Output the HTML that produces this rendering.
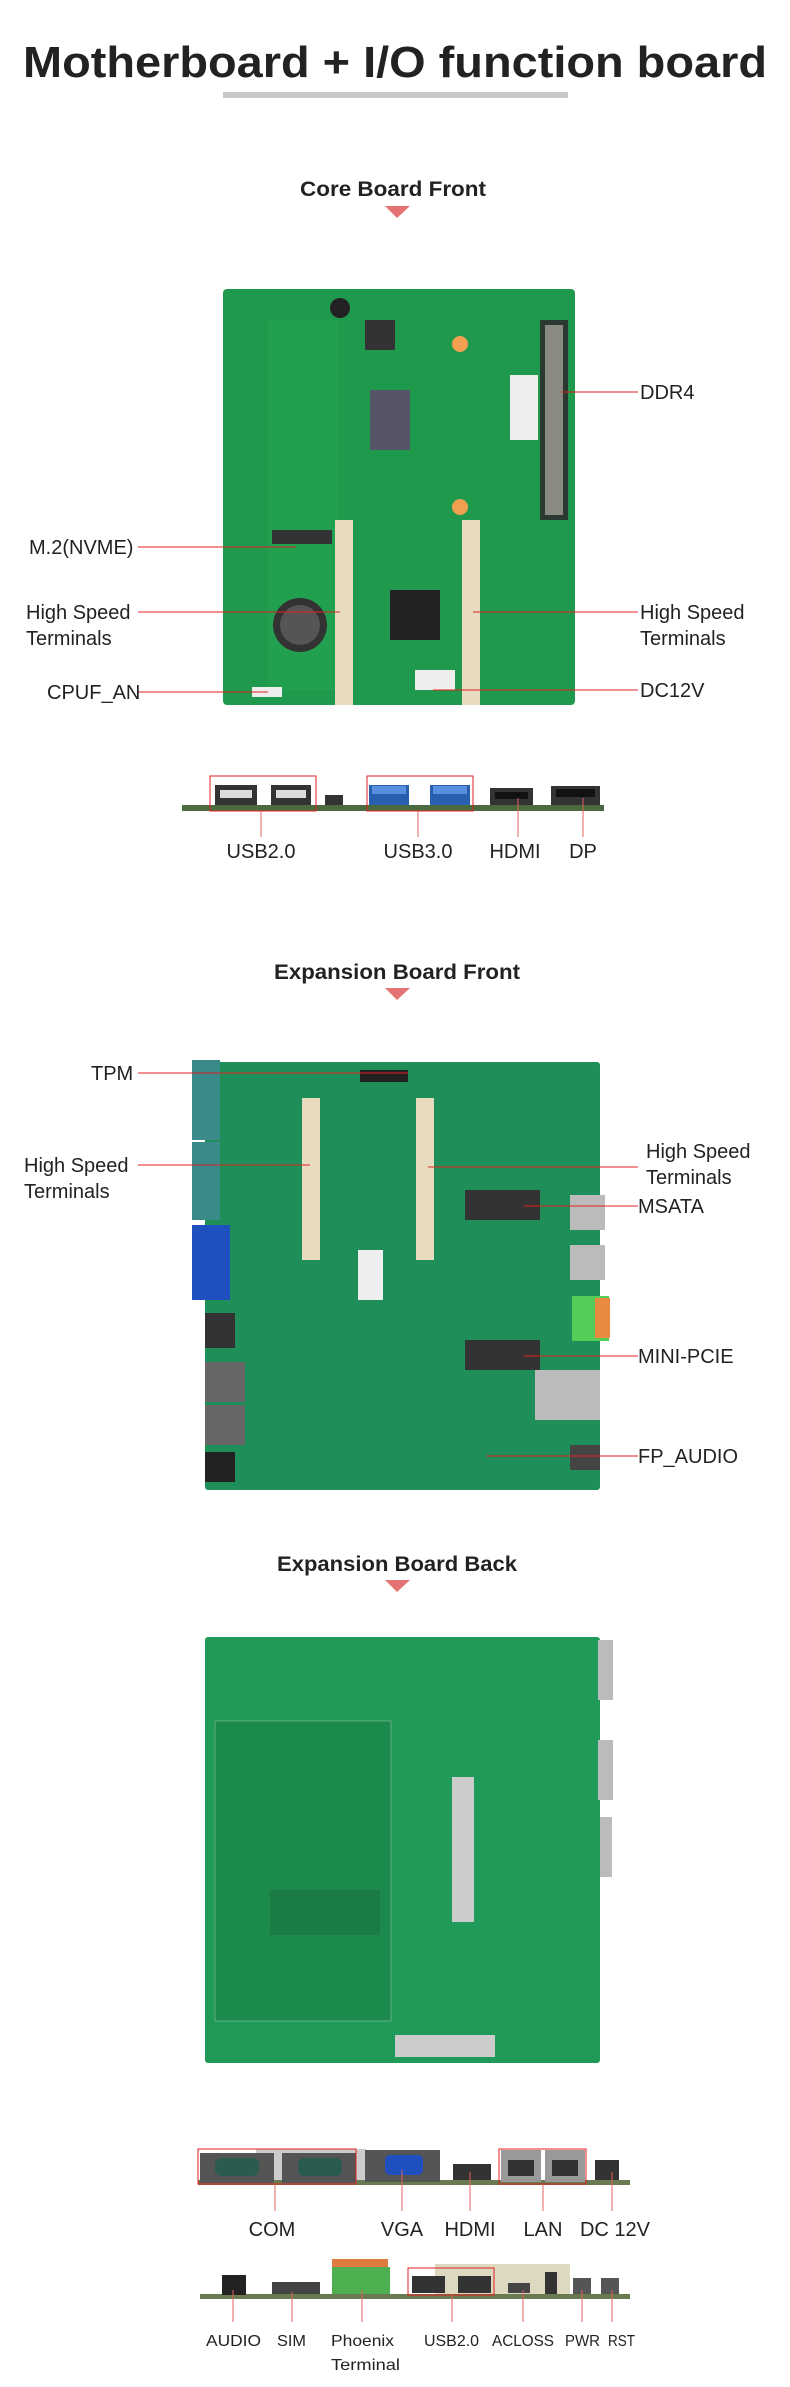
<!DOCTYPE html>
<html><head><meta charset="utf-8"><style>
html,body{margin:0;padding:0;background:#fff;}
svg{display:block;}
text{font-family:"Liberation Sans",sans-serif;fill:#222;}
</style></head><body>
<svg width="790" height="2387" viewBox="0 0 790 2387" xmlns="http://www.w3.org/2000/svg">
<!-- Title -->
<text x="395" y="77" font-size="44" font-weight="bold" text-anchor="middle" textLength="744" lengthAdjust="spacingAndGlyphs">Motherboard + I/O function board</text>
<rect x="223" y="92" width="345" height="6" fill="#c8c8c8"/>

<!-- Core Board Front -->
<text x="393" y="196" font-size="21" font-weight="bold" text-anchor="middle" textLength="186" lengthAdjust="spacingAndGlyphs">Core Board Front</text>
<polygon points="385,206 410,206 397,218" fill="#e57373"/>

<g>
<rect x="223" y="289" width="352" height="416" rx="4" fill="#1f9a4c"/>
<rect x="268" y="320" width="70" height="370" fill="#23a552" opacity="0.6"/>
<rect x="540" y="320" width="28" height="200" fill="#2a3a30"/>
<rect x="545" y="325" width="18" height="190" fill="#8a8a80"/>
<rect x="335" y="520" width="18" height="185" fill="#e8dcc0"/>
<rect x="462" y="520" width="18" height="185" fill="#e8dcc0"/>
<rect x="390" y="590" width="50" height="50" fill="#222"/>
<circle cx="300" cy="625" r="27" fill="#333"/>
<circle cx="300" cy="625" r="20" fill="#555"/>
<rect x="272" y="530" width="60" height="14" fill="#333"/>
<circle cx="460" cy="344" r="8" fill="#f0a050"/>
<circle cx="460" cy="507" r="8" fill="#f0a050"/>
<rect x="510" y="375" width="28" height="65" fill="#eee"/>
<rect x="415" y="670" width="40" height="20" fill="#eee"/>
<rect x="252" y="687" width="30" height="10" fill="#eee"/>
<rect x="330" y="298" width="20" height="20" rx="10" fill="#222"/>
<rect x="365" y="320" width="30" height="30" fill="#333"/>
<rect x="370" y="390" width="40" height="60" fill="#556"/>
</g>
<g stroke="#e02020" stroke-width="1">
<line x1="561" y1="392" x2="638" y2="392"/>
<line x1="138" y1="547" x2="296" y2="547"/>
<line x1="138" y1="612" x2="340" y2="612"/>
<line x1="473" y1="612" x2="638" y2="612"/>
<line x1="138" y1="692" x2="268" y2="692"/>
<line x1="433" y1="690" x2="638" y2="690"/>
</g>
<g font-size="20">
<text x="640" y="399">DDR4</text>
<text x="29" y="554">M.2(NVME)</text>
<text x="26" y="619">High Speed</text>
<text x="26" y="645">Terminals</text>
<text x="640" y="619">High Speed</text>
<text x="640" y="645">Terminals</text>
<text x="47" y="699">CPUF_AN</text>
<text x="640" y="697">DC12V</text>
</g>

<!-- Core IO strip -->
<rect x="182" y="805" width="422" height="6" fill="#4a6a40"/>
<rect x="215" y="785" width="42" height="20" fill="#333"/><rect x="220" y="790" width="32" height="8" fill="#ddd"/>
<rect x="271" y="785" width="40" height="20" fill="#333"/><rect x="276" y="790" width="30" height="8" fill="#ddd"/>
<rect x="325" y="795" width="18" height="10" fill="#333"/>
<rect x="369" y="785" width="40" height="20" fill="#2a5fb0"/><rect x="372" y="786" width="34" height="8" fill="#5a8fe0"/>
<rect x="430" y="785" width="40" height="20" fill="#2a5fb0"/><rect x="433" y="786" width="34" height="8" fill="#5a8fe0"/>
<rect x="490" y="788" width="43" height="17" fill="#333"/><rect x="495" y="792" width="33" height="7" fill="#111"/>
<rect x="551" y="786" width="49" height="19" fill="#333"/><rect x="556" y="789" width="39" height="8" fill="#111"/>
<rect x="210" y="776" width="106" height="35" fill="none" stroke="#e02020" stroke-width="1"/>
<rect x="367" y="776" width="106" height="35" fill="none" stroke="#e02020" stroke-width="1"/>
<g stroke="#e06060" stroke-width="1">
<line x1="261" y1="811" x2="261" y2="837"/>
<line x1="418" y1="811" x2="418" y2="837"/>
<line x1="518" y1="798" x2="518" y2="837"/>
<line x1="583" y1="798" x2="583" y2="837"/>
</g>
<g font-size="20" text-anchor="middle">
<text x="261" y="858">USB2.0</text>
<text x="418" y="858">USB3.0</text>
<text x="515" y="858">HDMI</text>
<text x="583" y="858">DP</text>
</g>

<!-- Expansion Board Front -->
<text x="397" y="979" font-size="21" font-weight="bold" text-anchor="middle" textLength="246" lengthAdjust="spacingAndGlyphs">Expansion Board Front</text>
<polygon points="385,988 410,988 397,1000" fill="#e57373"/>
<g>
<rect x="205" y="1062" width="395" height="428" rx="3" fill="#1f8f5a"/>
<rect x="192" y="1060" width="28" height="80" fill="#3a8a8a"/>
<rect x="192" y="1142" width="28" height="78" fill="#3a8a8a"/>
<rect x="192" y="1225" width="38" height="75" fill="#2050c0"/>
<rect x="205" y="1313" width="30" height="35" fill="#333"/>
<rect x="205" y="1362" width="40" height="40" fill="#666"/>
<rect x="205" y="1405" width="40" height="40" fill="#666"/>
<rect x="205" y="1452" width="30" height="30" fill="#222"/>
<rect x="302" y="1098" width="18" height="162" fill="#e8dcc0"/>
<rect x="416" y="1098" width="18" height="162" fill="#e8dcc0"/>
<rect x="360" y="1070" width="48" height="12" fill="#222"/>
<rect x="465" y="1190" width="75" height="30" fill="#333"/>
<rect x="465" y="1340" width="75" height="30" fill="#333"/>
<rect x="570" y="1195" width="35" height="35" fill="#bbb"/>
<rect x="570" y="1245" width="35" height="35" fill="#bbb"/>
<rect x="572" y="1296" width="37" height="45" fill="#5c5"/>
<rect x="595" y="1298" width="15" height="40" fill="#e88a40"/>
<rect x="535" y="1370" width="65" height="50" fill="#bbb"/>
<rect x="358" y="1250" width="25" height="50" fill="#eee"/>
<rect x="570" y="1445" width="30" height="25" fill="#444"/>
</g>
<g stroke="#e02020" stroke-width="1">
<line x1="138" y1="1073" x2="408" y2="1073"/>
<line x1="138" y1="1165" x2="310" y2="1165"/>
<line x1="428" y1="1167" x2="638" y2="1167"/>
<line x1="524" y1="1206" x2="638" y2="1206"/>
<line x1="524" y1="1356" x2="638" y2="1356"/>
<line x1="486" y1="1456" x2="638" y2="1456"/>
</g>
<g font-size="20">
<text x="91" y="1080">TPM</text>
<text x="24" y="1172">High Speed</text>
<text x="24" y="1198">Terminals</text>
<text x="646" y="1158">High Speed</text>
<text x="646" y="1184">Terminals</text>
<text x="638" y="1213">MSATA</text>
<text x="638" y="1363">MINI-PCIE</text>
<text x="638" y="1463">FP_AUDIO</text>
</g>

<!-- Expansion Board Back -->
<text x="397" y="1571" font-size="21" font-weight="bold" text-anchor="middle" textLength="240" lengthAdjust="spacingAndGlyphs">Expansion Board Back</text>
<polygon points="385,1580 410,1580 397,1592" fill="#e57373"/>
<g>
<rect x="205" y="1637" width="395" height="426" rx="3" fill="#209a58"/>
<rect x="215" y="1721" width="176" height="300" fill="#1c8a4c" stroke="#8ac0a0" stroke-width="0.6"/>
<rect x="270" y="1890" width="110" height="45" fill="#1a7c44"/>
<rect x="452" y="1777" width="22" height="145" fill="#ccc"/>
<rect x="395" y="2035" width="100" height="22" fill="#ccc"/>
<rect x="598" y="1640" width="15" height="60" fill="#bbb"/>
<rect x="598" y="1740" width="15" height="60" fill="#bbb"/>
<rect x="600" y="1817" width="12" height="60" fill="#bbb"/>
</g>

<!-- Back IO strip upper -->
<rect x="198" y="2180" width="432" height="5" fill="#6a7a50"/>
<rect x="256" y="2149" width="110" height="31" fill="#ccc"/>
<rect x="200" y="2153" width="74" height="30" fill="#555"/><rect x="215" y="2158" width="44" height="18" rx="6" fill="#2a5a50"/>
<rect x="282" y="2153" width="74" height="30" fill="#555"/><rect x="298" y="2158" width="44" height="18" rx="6" fill="#2a5a50"/>
<rect x="365" y="2150" width="75" height="32" fill="#555"/><rect x="385" y="2155" width="38" height="20" rx="5" fill="#2050c0"/>
<rect x="453" y="2164" width="38" height="16" fill="#333"/>
<rect x="501" y="2150" width="40" height="32" fill="#999"/><rect x="508" y="2160" width="26" height="16" fill="#333"/>
<rect x="545" y="2150" width="40" height="32" fill="#999"/><rect x="552" y="2160" width="26" height="16" fill="#333"/>
<rect x="595" y="2160" width="24" height="20" fill="#333"/>
<rect x="198" y="2149" width="158" height="35" fill="none" stroke="#e02020" stroke-width="1"/>
<rect x="499" y="2149" width="87" height="35" fill="none" stroke="#e02020" stroke-width="1"/>
<g stroke="#e06060" stroke-width="1">
<line x1="275" y1="2184" x2="275" y2="2211"/>
<line x1="402" y1="2170" x2="402" y2="2211"/>
<line x1="470" y1="2172" x2="470" y2="2211"/>
<line x1="543" y1="2184" x2="543" y2="2211"/>
<line x1="612" y1="2172" x2="612" y2="2211"/>
</g>
<g font-size="20" text-anchor="middle">
<text x="272" y="2236">COM</text>
<text x="402" y="2236">VGA</text>
<text x="470" y="2236">HDMI</text>
<text x="543" y="2236">LAN</text>
<text x="615" y="2236">DC 12V</text>
</g>

<!-- Back IO strip lower -->
<rect x="200" y="2294" width="430" height="5" fill="#6a7a50"/>
<rect x="222" y="2275" width="24" height="20" fill="#222"/>
<rect x="272" y="2282" width="48" height="12" fill="#444"/>
<rect x="332" y="2267" width="58" height="27" fill="#4caf50"/>
<rect x="332" y="2259" width="56" height="8" fill="#e07a40"/>
<rect x="435" y="2264" width="135" height="30" fill="#ddd8c0"/>
<rect x="412" y="2276" width="33" height="17" fill="#333"/>
<rect x="458" y="2276" width="33" height="17" fill="#333"/>
<rect x="508" y="2283" width="22" height="10" fill="#444"/>
<rect x="545" y="2272" width="12" height="22" fill="#333"/>
<rect x="573" y="2278" width="18" height="16" fill="#555"/>
<rect x="601" y="2278" width="18" height="16" fill="#555"/>
<rect x="408" y="2268" width="86" height="27" fill="none" stroke="#e02020" stroke-width="1"/>
<g stroke="#e06060" stroke-width="1">
<line x1="233" y1="2290" x2="233" y2="2322"/>
<line x1="292" y1="2292" x2="292" y2="2322"/>
<line x1="362" y1="2290" x2="362" y2="2322"/>
<line x1="452" y1="2295" x2="452" y2="2322"/>
<line x1="523" y1="2290" x2="523" y2="2322"/>
<line x1="582" y1="2290" x2="582" y2="2322"/>
<line x1="612" y1="2290" x2="612" y2="2322"/>
</g>
<g font-size="16">
<text x="206" y="2346" textLength="55" lengthAdjust="spacingAndGlyphs">AUDIO</text>
<text x="277" y="2346" textLength="29" lengthAdjust="spacingAndGlyphs">SIM</text>
<text x="331" y="2346" textLength="63" lengthAdjust="spacingAndGlyphs">Phoenix</text>
<text x="331" y="2370" textLength="69" lengthAdjust="spacingAndGlyphs">Terminal</text>
<text x="424" y="2346" textLength="55" lengthAdjust="spacingAndGlyphs">USB2.0</text>
<text x="492" y="2346" textLength="62" lengthAdjust="spacingAndGlyphs">ACLOSS</text>
<text x="565" y="2346" textLength="35" lengthAdjust="spacingAndGlyphs">PWR</text>
<text x="608" y="2346" textLength="27" lengthAdjust="spacingAndGlyphs">RST</text>
</g>
</svg>
</body></html>
